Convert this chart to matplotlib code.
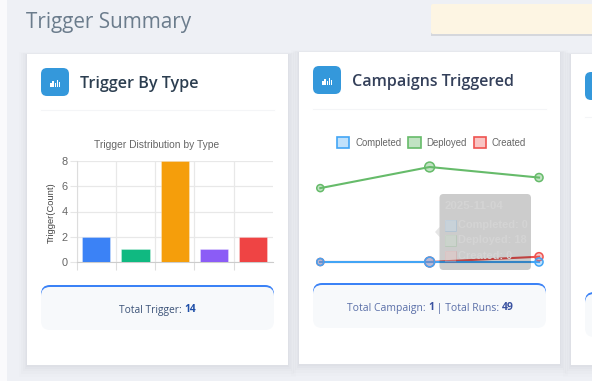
import matplotlib
matplotlib.use("Agg")
import matplotlib.pyplot as plt
from matplotlib.patches import FancyBboxPatch, Rectangle, Patch, Polygon

# ---- data ----
type_positions = [0, 1, 2, 3, 4]
type_counts = [2, 1, 8, 1, 2]
type_colors = ["#3b82f6", "#10b981", "#f59e0b", "#8b5cf6", "#ef4444"]
y_ticks = [0, 2, 4, 6, 8]

run_positions = [0, 1, 2]
completed = [0, 0, 0]
deployed = [14, 18, 16]
created = [0, 0, 1]

W, H = 592, 381
PX = 0.72
fig = plt.figure(figsize=(W / 100, H / 100), dpi=100, facecolor="#eef0f5")

def rect_axes(x0, y0, x1, y1, z):
    a = fig.add_axes([x0 / W, 1 - y1 / H, (x1 - x0) / W, (y1 - y0) / H], zorder=z)
    a.patch.set_alpha(0)
    return a

bg = fig.add_axes([0, 0, 1, 1], zorder=0)
bg.set_xlim(0, W); bg.set_ylim(H, 0); bg.axis("off")
top = fig.add_axes([0, 0, 1, 1], zorder=10)
top.set_xlim(0, W); top.set_ylim(H, 0); top.axis("off"); top.patch.set_alpha(0)

def rrect(ax, x0, y0, x1, y1, r, **kw):
    p = FancyBboxPatch((x0 + r, y0 + r), x1 - x0 - 2 * r, y1 - y0 - 2 * r,
                       boxstyle=f"round,pad={r},rounding_size={r}", mutation_aspect=1, **kw)
    ax.add_patch(p)
    return p

bg.add_patch(Rectangle((0, 0), 7, H, fc="#fafafc", ec="none"))
# notice bar
bg.add_patch(Rectangle((431, 6), W, 29.5, fc="#000000", alpha=.10, ec="none"))
rrect(bg, 431, 4, 640, 34, 2, fc="#fdf5e3", ec="none")
bg.text(26, 22.5, "Trigger Summary", family="Open Sans", fontsize=20.6 * PX, color="#6b7c8c", va="center")

def card(x0, y0, x1, y1):
    for g, a in ((8, .008), (6, .010), (4, .012), (2.5, .015), (1, .02)):
        bg.add_patch(Rectangle((x0 - g, y0 - g * .2), x1 - x0 + 2 * g, y1 - y0 + 1.7 * g,
                               fc="#1a2340", alpha=a, ec="none"))
    bg.add_patch(Rectangle((x0, y0), x1 - x0, y1 - y0, fc="white", ec="none"))

def icon(x0, y0):
    rrect(bg, x0, y0, x0 + 28, y0 + 28, 6, fc="#3498db", ec="none")
    for dx, h in ((9.2, 4), (11.4, 6), (13.6, 3.5), (15.8, 7), (17.6, 5)):
        bg.add_patch(Rectangle((x0 + dx, y0 + 18.5 - h), 1.3, h, fc="white", ec="none"))
    bg.add_patch(Rectangle((x0 + 8.3, y0 + 18.5), 11.5, .9, fc="white", ec="none"))

def summary(x0, y0, x1, y1):
    rrect(bg, x0, y0, x1, y0 + 22, 9, fc="#3b82f6", ec="none")
    rrect(bg, x0, y0 + 2, x1, y1, 9, fc="#f7f9fb", ec="none")

card(27, 54, 288, 365)
card(299, 52, 560, 364)
card(571, 54, 640, 365)
icon(41, 68); icon(313, 66); icon(585, 72)
for x0, x1, y in ((41, 274, 110), (313, 546, 109), (585, 640, 117)):
    bg.plot([x0, x1], [y, y], color="#f4f5f7", lw=.8)
summary(41, 285, 274, 330)
summary(313, 283, 546, 328)
summary(585, 292, 640, 337)

bg.text(80, 83.5, "Trigger By Type", family="Open Sans", fontsize=16.1 * PX, weight="semibold",
        color="#2c3e50", va="center")
bg.text(352, 81.5, "Campaigns Triggered", family="Open Sans", fontsize=16 * PX, weight="semibold",
        color="#34405a", va="center")

def mixed(x, y, parts, color, bold, size):
    t = None
    for s, b in parts:
        if t is None:
            t = bg.text(x, y, s, family="Open Sans", fontsize=size * PX, color=bold if b else color,
                        weight="bold" if b else "normal", va="center")
        else:
            t = bg.annotate(s, xy=(1, 0), xycoords=t, xytext=(0, 0), textcoords="offset points",
                            family="Open Sans", fontsize=size * PX, color=bold if b else color,
                            weight="bold" if b else "normal", va="bottom")

mixed(119, 310, [("Total Trigger: ", False), ("14", True)], "#3c5378", "#1e4fa8", 10.3)
mixed(347, 308, [("Total Campaign: ", False), ("1", True), (" | Total Runs: ", False), ("49", True)],
      "#5a6fa8", "#3a52a0", 10.4)

# ---- bar chart ----
ax = rect_axes(76.7, 161, 272.7, 262, 5)
ax.bar(type_positions, type_counts, width=0.72, color=type_colors, edgecolor="#ffffff55", linewidth=.6, zorder=3)
ax.set_xlim(-0.5, 4.5); ax.set_ylim(0, 8)
ax.set_xticks([i - 0.5 for i in type_positions])
ax.set_xticklabels([])
ax.set_yticks(y_ticks)
ax.grid(True, color="#e8e8e8", lw=.9, zorder=0)
ax.tick_params(axis="y", length=5, color="#e6e6e6", labelsize=11 * PX, labelcolor="#666666", pad=1.5)
ax.tick_params(axis="x", length=5.5, color="#dddddd", width=.8)
for s in ("top", "right"):
    ax.spines[s].set_visible(False)
ax.spines["left"].set_color("#dddddd")
ax.spines["bottom"].set_color("#cccccc")
for t in ax.get_yticklabels():
    t.set_family("Liberation Sans")
ax.set_ylabel("Trigger(Count)", family="Liberation Sans", fontsize=9.4 * PX, color="#444444", labelpad=2)
ax.yaxis.set_label_coords(-0.105, 0.49)
bg.text(157, 145, "Trigger Distribution by Type", family="Liberation Sans", fontsize=10.2 * PX,
        color="#666666", ha="center", va="center")

# ---- line chart ----
lx = rect_axes(320.3, 167, 539, 262, 5)
lx.set_xlim(0, 2); lx.set_ylim(0, 18); lx.axis("off")
sizes = [26, 50, 34]
series = [("Deployed", deployed, "#66bb6a", "#66bb6a66"),
          ("Created", created, "#ef5350", "#ef535055"),
          ("Completed", completed, "#42a5f5", "#42a5f555")]
for name, vals, c, f in series:
    lx.plot(run_positions, vals, color=c, lw=1.5, clip_on=False, zorder=3)
    lx.scatter(run_positions, vals, s=sizes, facecolor=f, edgecolor=c, linewidths=1.1, clip_on=False, zorder=4)

order = [series[2], series[0], series[1]]
handles = [Patch(facecolor=f, edgecolor=c, linewidth=1.2, label=n) for n, v, c, f in order]
leg = lx.legend(handles=handles, ncol=3, frameon=False, labelcolor="#666666",
                handlelength=1.3, handleheight=1.35, handletextpad=0.62, columnspacing=0.7,
                borderpad=0, borderaxespad=0, loc="center",
                bbox_to_anchor=(431.5 / W, 1 - 142.5 / H), bbox_transform=fig.transFigure,
                prop={"family": "Liberation Sans", "size": 9.6 * PX})

# ---- tooltip (faded) ----
rrect(top, 439.5, 194, 531, 270, 4, fc="#000000", alpha=.2, ec="none")
top.add_patch(Polygon([[439.5, 227], [435, 232], [439.5, 237]], fc="#000000", alpha=.1, ec="none"))
tf = dict(family="Liberation Sans", weight="bold", color="#d4d4d4", va="center")
top.text(445, 206, "2025-11-04", fontsize=11.5 * PX, **tf)
rows = [("Completed: 0", 225, "#42a5f5"), ("Deployed: 18", 240, "#66bb6a"), ("Created: 0", 256, "#ef5350")]
for s, y, c in rows:
    top.add_patch(Rectangle((445, y - 5.5), 11, 11, fc=c, ec=c, lw=.7, alpha=.12))
    top.add_patch(Rectangle((445, y - 5.5), 11, 11, fc="#ffffff", ec="none", alpha=.2))
    top.text(458.5, y, s, fontsize=11 * PX, **tf)

fig.savefig("out.png", dpi=100, facecolor=fig.get_facecolor())
